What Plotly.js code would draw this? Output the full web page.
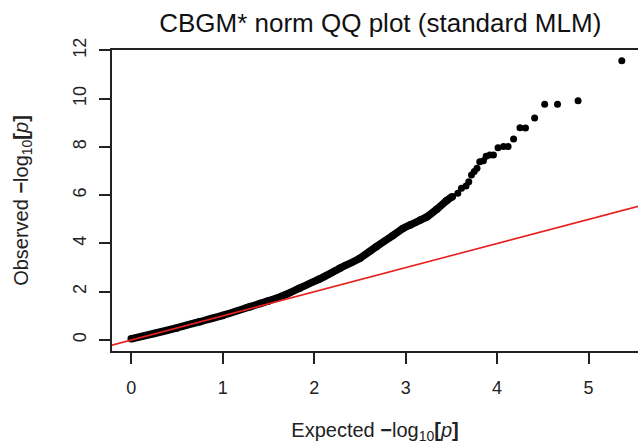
<!DOCTYPE html>
<html>
<head>
<meta charset="utf-8">
<script src="https://cdn.plot.ly/plotly-3.0.1.min.js"></script>
<style>html,body{margin:0;padding:0;background:#fff;}</style>
</head>
<body>
<div id="chart" style="width:638px;height:448px;"></div>
<script>
// Dense part of the QQ curve (expected, observed)
const denseExpected = [0.00, 0.25, 0.50, 0.75, 1.00, 1.30, 1.50, 1.70, 1.84, 2.06, 2.28, 2.50, 2.68, 2.86, 2.97, 3.05, 3.16, 3.23, 3.34, 3.45, 3.51];
const denseObserved = [0.05, 0.27, 0.50, 0.76, 1.02, 1.38, 1.62, 1.90, 2.15, 2.53, 2.97, 3.39, 3.87, 4.33, 4.62, 4.77, 4.97, 5.10, 5.42, 5.78, 5.94];
// Sparse tail points
const tailExpected = [3.57, 3.61, 3.66, 3.69, 3.72, 3.75, 3.78, 3.81, 3.85, 3.88, 3.92, 3.96, 4.01, 4.07, 4.12, 4.18, 4.25, 4.31, 4.41, 4.52, 4.66, 4.885, 5.363];
const tailObserved = [6.08, 6.29, 6.38, 6.56, 6.84, 6.98, 7.12, 7.39, 7.43, 7.62, 7.67, 7.67, 7.97, 8.02, 8.02, 8.33, 8.80, 8.79, 9.20, 9.77, 9.77, 9.92, 11.57];
// Reference line y = x
const refX = [-1, 7];
const refY = [-1, 7];
const xTicks = [0, 1, 2, 3, 4, 5];
const yTicks = [0, 2, 4, 6, 8, 10, 12];

const FONT = "Liberation Sans, Arial, Helvetica, sans-serif";

const traces = [
  {x: denseExpected, y: denseObserved, mode: 'lines+markers', type: 'scatter',
   line: {color: '#000', width: 7.5, shape: 'spline', smoothing: 0.6},
   marker: {color: '#000', size: 7.5}, hoverinfo: 'skip'},
  {x: tailExpected, y: tailObserved, mode: 'markers', type: 'scatter',
   marker: {color: '#000', size: 7}, hoverinfo: 'skip'},
  {x: refX, y: refY, mode: 'lines', type: 'scatter',
   line: {color: '#e8201e', width: 1.6}, hoverinfo: 'skip'}
];

const layout = {
  width: 638, height: 448,
  margin: {l: 112, r: 0, t: 50, b: 97},
  paper_bgcolor: '#fff', plot_bgcolor: '#fff',
  showlegend: false,
  font: {family: FONT, color: '#000'},
  title: {text: 'CBGM* norm QQ plot (standard MLM)', font: {size: 26, family: FONT, color: '#111'},
          x: 0.596, xref: 'container', xanchor: 'center', y: 0.948, yref: 'container', yanchor: 'middle'},
  xaxis: {range: [-0.21, 5.54], tickvals: xTicks, ticktext: xTicks.map(String),
          showgrid: false, zeroline: false, showline: true, linecolor: '#222', linewidth: 2,
          mirror: true, ticks: 'outside', ticklen: 11, tickwidth: 2, tickcolor: '#222',
          tickfont: {size: 18, family: FONT, color: '#222'}, ticklabelstandoff: 8,
          title: {text: 'Expected <b>\u2212</b>log<sub>10</sub><b>[</b><i>p</i><b>]</b>', font: {size: 20, family: FONT, color: '#222'}, standoff: 26},
          automargin: false},
  yaxis: {range: [-0.456, 12.02], tickvals: yTicks, ticktext: yTicks.map(String),
          showgrid: false, zeroline: false, showline: true, linecolor: '#222', linewidth: 2,
          mirror: false, ticks: 'outside', ticklen: 11, tickwidth: 2, tickcolor: '#222',
          tickangle: -90, tickfont: {size: 18, family: FONT, color: '#222'}, ticklabelstandoff: 6,
          title: {text: 'Observed <b>\u2212</b>log<sub>10</sub><b>[</b><i>p</i><b>]</b>', font: {size: 20, family: FONT, color: '#222'}, standoff: 36},
          automargin: false}
};

Plotly.newPlot('chart', traces, layout, {staticPlot: true, displayModeBar: false});
</script>
</body>
</html>
